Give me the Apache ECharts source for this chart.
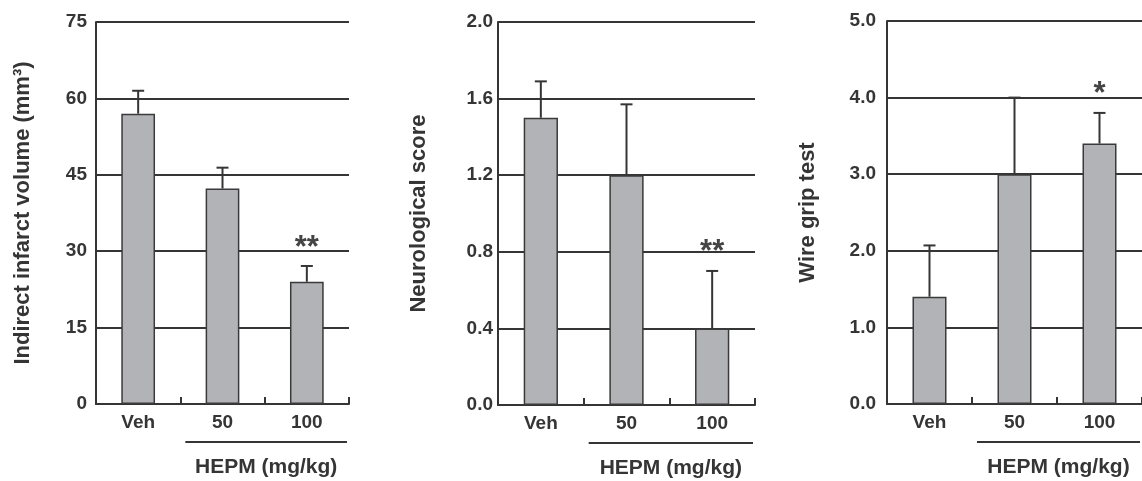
<!DOCTYPE html>
<html>
<head>
<meta charset="utf-8">
<script src="https://cdn.jsdelivr.net/npm/echarts@6/dist/echarts.min.js"></script>
<style>
  html, body { margin: 0; padding: 0; background: #fff; }
  #chart { width: 1142px; height: 481px; }
</style>
</head>
<body>
<div id="chart"></div>
<script>
// groups on the x axis
const categories = ['Veh', '50', '100']
const groupLabel = 'HEPM (mg/kg)'
const groupFrom = 1

// panel A: indirect infarct volume
const volMean = [57.0, 42.3, 24.0]
const volErr = [4.5, 4.1, 3.1]
const volSig = ['', '', '**']

// panel B: neurological score
const scoreMean = [1.5, 1.2, 0.4]
const scoreErr = [0.19, 0.37, 0.3]
const scoreSig = ['', '', '**']

// panel C: wire grip test
const gripMean = [1.4, 3.0, 3.4]
const gripErr = [0.67, 1.0, 0.4]
const gripSig = ['', '', '*']

const FONT = "'Liberation Sans', Arial, sans-serif"
const INK = '#353535'

const panels = [
  { name: 'Indirect infarct volume (mm³)', mean: volMean, err: volErr, sig: volSig,
    min: 0, max: 75, interval: 15, digits: 0,
    grid: { left: 96, top: 22, width: 253, height: 382 }, labelMargin: 9, nameGap: 62 },
  { name: 'Neurological score', mean: scoreMean, err: scoreErr, sig: scoreSig,
    min: 0, max: 2, interval: 0.4, digits: 1,
    grid: { left: 498, top: 22, width: 257, height: 383 }, labelMargin: 5, nameGap: 68 },
  { name: 'Wire grip test', mean: gripMean, err: gripErr, sig: gripSig,
    min: 0, max: 5, interval: 1, digits: 1,
    grid: { left: 887, top: 21, width: 256, height: 383 }, labelMargin: 11, nameGap: 68 },
]

function errorBars(p) {
  return function (params, api) {
    const i = api.value(0)
    const mean = api.value(1)
    const err = api.value(2)
    const base = api.coord([i, mean])
    const top = api.coord([i, mean + err])
    const lineStyle = { stroke: INK, lineWidth: 2 }
    const children = [
      { type: 'line', shape: { x1: base[0], y1: base[1], x2: top[0], y2: top[1] }, style: lineStyle },
      { type: 'line', shape: { x1: top[0] - 6, y1: top[1], x2: top[0] + 6, y2: top[1] }, style: lineStyle },
    ]
    if (p.sig[i]) {
      children.push({
        type: 'text',
        style: {
          text: p.sig[i], x: top[0], y: top[1] - 18,
          align: 'center', verticalAlign: 'middle',
          fontSize: 31, fontWeight: 'bold', fontFamily: FONT, fill: '#444',
        },
      })
    }
    if (i === groupFrom) {
      const cs = params.coordSys
      const band = api.size([1, 0])[0]
      const x0 = base[0] - band / 2 + 5
      const x1 = cs.x + cs.width - 2
      const yb = cs.y + cs.height
      children.push({ type: 'line', shape: { x1: x0, y1: yb + 38, x2: x1, y2: yb + 38 }, style: lineStyle })
      children.push({
        type: 'text',
        style: {
          text: groupLabel, x: (x0 + x1) / 2, y: yb + 63,
          align: 'center', verticalAlign: 'middle',
          fontSize: 21, fontWeight: 'bold', fontFamily: FONT, fill: INK,
        },
      })
    }
    return { type: 'group', children }
  }
}

const option = {
  backgroundColor: '#fff',
  animation: false,
  grid: panels.map(p => p.grid),
  xAxis: panels.map((p, k) => ({
    type: 'category',
    gridIndex: k,
    data: categories,
    axisLine: { lineStyle: { color: INK, width: 2 } },
    axisTick: { show: true, inside: true, length: 7, lineStyle: { color: INK, width: 2 } },
    axisLabel: { margin: 9, fontSize: 19, fontWeight: 'bold', fontFamily: FONT, color: INK },
    splitLine: { show: false },
  })),
  yAxis: panels.map((p, k) => ({
    type: 'value',
    gridIndex: k,
    min: p.min,
    max: p.max,
    interval: p.interval,
    name: p.name,
    nameLocation: 'middle',
    nameGap: p.nameGap,
    nameTextStyle: { fontSize: 22, fontWeight: 'bold', fontFamily: FONT, color: INK },
    axisLine: { show: true, lineStyle: { color: INK, width: 2 } },
    axisTick: { show: false },
    axisLabel: {
      margin: p.labelMargin, fontSize: 19, fontWeight: 'bold', fontFamily: FONT, color: INK,
      formatter: v => v.toFixed(p.digits),
    },
    splitLine: { show: true, lineStyle: { color: INK, width: 2 } },
  })),
  series: panels.flatMap((p, k) => [
    {
      type: 'bar',
      xAxisIndex: k,
      yAxisIndex: k,
      data: p.mean,
      barWidth: '40%',
      itemStyle: { color: '#b2b3b7', borderColor: '#3a3a3a', borderWidth: 1.5 },
      z: 3,
    },
    {
      type: 'custom',
      xAxisIndex: k,
      yAxisIndex: k,
      data: p.mean.map((m, i) => [i, m, p.err[i]]),
      renderItem: errorBars(p),
      z: 4,
    },
  ]),
}

const chart = echarts.init(document.getElementById('chart'))
chart.setOption(option)
</script>
</body>
</html>
